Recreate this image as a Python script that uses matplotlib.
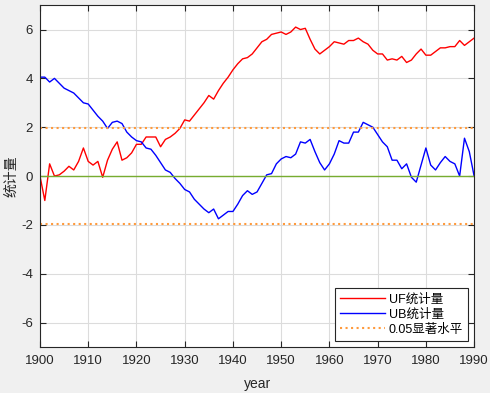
import numpy as np
import matplotlib
matplotlib.use('Agg')
import matplotlib.pyplot as plt

plt.rcParams['font.family'] = ['Liberation Sans', 'Noto Sans CJK SC', 'DejaVu Sans']
plt.rcParams['axes.unicode_minus'] = False

years = np.arange(1900, 1991)

uf = [0.0, -1.0, 0.5, 0.0, 0.05, 0.2, 0.4, 0.25, 0.6, 1.15,
      0.6, 0.45, 0.6, -0.05, 0.65, 1.1, 1.4, 0.65, 0.75, 0.95,
      1.3, 1.3, 1.6, 1.6, 1.6, 1.2, 1.5, 1.6, 1.75, 1.95,
      2.3, 2.25, 2.5, 2.75, 3.0, 3.3, 3.15, 3.5, 3.8, 4.05,
      4.35, 4.6, 4.8, 4.85, 5.0, 5.25, 5.5, 5.6, 5.8, 5.85,
      5.9, 5.8, 5.9, 6.1, 6.0, 6.05, 5.6, 5.2, 5.0, 5.15,
      5.3, 5.5, 5.45, 5.4, 5.55, 5.55, 5.65, 5.5, 5.4, 5.15,
      5.0, 5.0, 4.75, 4.8, 4.75, 4.9, 4.65, 4.75, 5.0, 5.2,
      4.95, 4.95, 5.1, 5.25, 5.25, 5.3, 5.3, 5.55, 5.35, 5.5,
      5.65]

ub = [4.05, 4.05, 3.85, 4.0, 3.8, 3.6, 3.5, 3.4, 3.2, 3.0,
      2.95, 2.7, 2.45, 2.25, 1.95, 2.2, 2.25, 2.15, 1.8, 1.6,
      1.45, 1.4, 1.15, 1.1, 0.85, 0.55, 0.25, 0.15, -0.1, -0.3,
      -0.55, -0.65, -0.95, -1.15, -1.35, -1.5, -1.35, -1.75, -1.6, -1.45,
      -1.45, -1.15, -0.8, -0.6, -0.75, -0.65, -0.3, 0.05, 0.1, 0.5,
      0.7, 0.8, 0.75, 0.9, 1.4, 1.35, 1.5, 1.0, 0.55, 0.25,
      0.5, 0.9, 1.45, 1.35, 1.35, 1.8, 1.8, 2.2, 2.1, 2.0,
      1.7, 1.4, 1.2, 0.65, 0.65, 0.3, 0.5, -0.05, -0.25, 0.45,
      1.15, 0.45, 0.25, 0.55, 0.8, 0.6, 0.5, 0.0, 1.55, 1.0,
      0.0]

level = 1.96

fig = plt.figure(figsize=(4.9, 3.93), dpi=100, facecolor='#f0f0f0')
ax = fig.add_axes([0.0816, 0.117, 0.886, 0.870])

ax.plot(years, uf, color='red', lw=1.0, label='UF统计量')
ax.plot(years, ub, color='blue', lw=1.0, label='UB统计量')
ax.plot([1900, 1990], [level, level], color='#ff9a3c', lw=1.5, ls=':', label='0.05显著水平')
ax.plot([1900, 1990], [-level, -level], color='#ff9a3c', lw=1.5, ls=':')
ax.plot([1900, 1990], [0, 0], color='#77ac30', lw=1.0)

ax.set_xlim(1900, 1990)
ax.set_ylim(-7, 7)
ax.set_xticks(np.arange(1900, 1991, 10))
ax.set_yticks(np.arange(-6, 7, 2))
ax.grid(True, color='#dcdcdc', lw=0.8)
ax.set_axisbelow(True)
ax.tick_params(direction='in', top=True, right=True, labelsize=9.5,
               colors='#262626', length=4, width=0.8)
ax.tick_params(axis='x', pad=6)
ax.tick_params(axis='y', pad=5)
for s in ax.spines.values():
    s.set_color('#262626')
    s.set_linewidth(0.8)

ax.set_xlabel('year', fontsize=10, color='#262626', labelpad=7)
ax.set_ylabel('统计量', fontsize=10, color='#262626', labelpad=2)

leg = ax.legend(loc='lower right', fontsize=9, fancybox=False, framealpha=1,
                edgecolor='#262626', borderaxespad=0.5, handlelength=3.6,
                handletextpad=0.3, labelspacing=0.25, borderpad=0.4)
leg.get_frame().set_linewidth(0.8)

fig.savefig('out.png', dpi=100, facecolor=fig.get_facecolor())
